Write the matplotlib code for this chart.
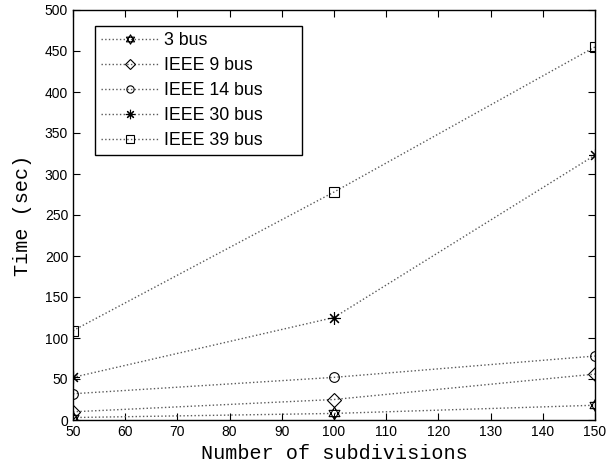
import numpy as np
import matplotlib
matplotlib.use("Agg")
import matplotlib.pyplot as plt
from matplotlib.path import Path

subdivisions = [50, 100, 150]
labels = ["3 bus", "IEEE 9 bus", "IEEE 14 bus", "IEEE 30 bus", "IEEE 39 bus"]
bus3 = [3, 8, 18]
ieee9 = [10, 25, 56]
ieee14 = [32, 52, 78]
ieee30 = [52, 125, 323]
ieee39 = [109, 278, 455]

# hexagram marker: two overlapping triangles
a = np.deg2rad([90, 210, 330])
b = np.deg2rad([270, 30, 150])
verts = [(np.cos(t), np.sin(t)) for t in a] + [(0, 0)] + [(np.cos(t), np.sin(t)) for t in b] + [(0, 0)]
codes = [Path.MOVETO, Path.LINETO, Path.LINETO, Path.CLOSEPOLY] * 2
hexagram = Path(verts, codes)

series = [bus3, ieee9, ieee14, ieee30, ieee39]
markers = [hexagram, "D", "o", (8, 2, 0), "s"]
sizes = [9, 7, 7, 9, 7]

fig = plt.figure(figsize=(6.07, 4.68), dpi=100)
ax = fig.add_axes([73 / 607, 48 / 468, 522 / 607, 410 / 468])

for vals, m, lab, ms in zip(series, markers, labels, sizes):
    ax.plot(subdivisions, vals, ls=":", color="0.35", lw=1.0, marker=m,
            ms=ms, mfc="none", mec="k", mew=0.8, label=lab)

ax.set_xlim(50, 150)
ax.set_ylim(0, 500)
ax.set_xticks(range(50, 151, 10))
ax.set_yticks(range(0, 501, 50))
ax.tick_params(direction="in", top=True, right=True, labelsize=10, length=5)
for lbl in ax.get_xticklabels() + ax.get_yticklabels():
    lbl.set_fontfamily("Liberation Sans")
for s in ax.spines.values():
    s.set_linewidth(1.0)

ax.set_xlabel("Number of subdivisions", family="Liberation Mono", fontsize=14.5, labelpad=4)
ax.set_ylabel("Time (sec)", family="Liberation Mono", fontsize=14.5, labelpad=9)

leg = ax.legend(loc="upper left", bbox_to_anchor=(0.042, 0.961, 0.397, 0.0), mode="expand",
                prop={"family": "Liberation Sans", "size": 12.8},
                fancybox=False, edgecolor="k", framealpha=1, handlelength=3.2, borderpad=0.35,
                labelspacing=0.45, handletextpad=0.35, markerscale=0.75, borderaxespad=0)
leg.get_frame().set_linewidth(1.0)

fig.savefig("out.png", dpi=100)
